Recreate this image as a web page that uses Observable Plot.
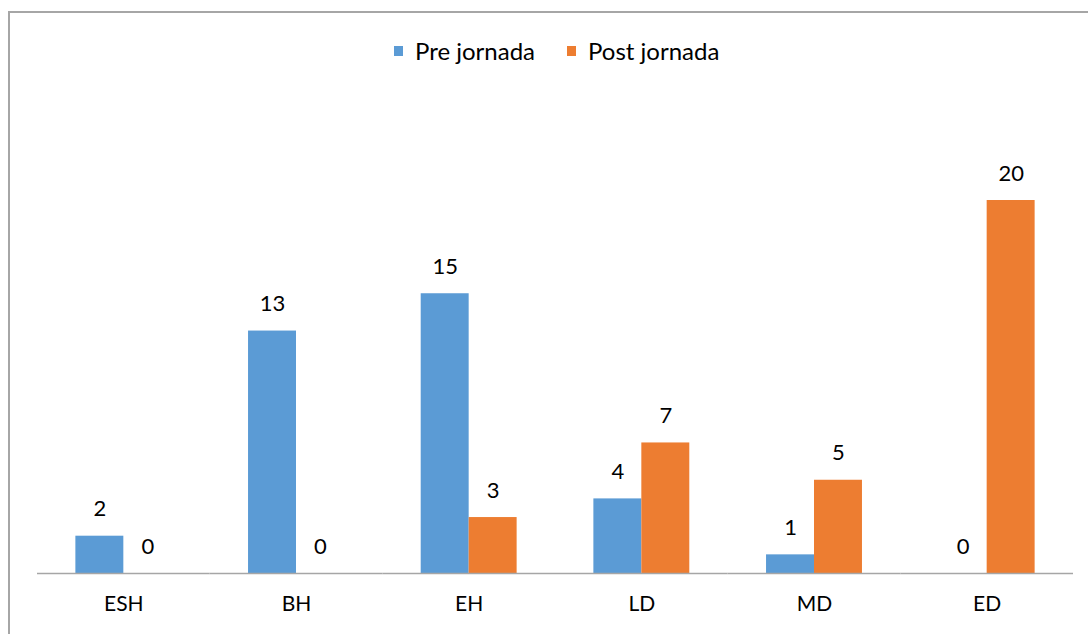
<!DOCTYPE html>
<html>
<head>
<meta charset="utf-8">
<script src="https://cdn.jsdelivr.net/npm/d3@7"></script>
<script src="https://cdn.jsdelivr.net/npm/@observablehq/plot@0.6"></script>
<style>
  html, body { margin: 0; padding: 0; background: #fff; overflow: hidden; width: 1088px; height: 634px; }
  #wrap { position: relative; width: 1088px; height: 634px; font-family: Lato, "Open Sans", sans-serif; }
  #frame { position: absolute; left: 8px; top: 11px; width: 1100px; height: 650px; border-left: 2px solid #a6a6a6; border-top: 2px solid #a6a6a6; box-sizing: border-box; }
  #chart { position: absolute; left: 0; top: 0; }
  #legend { position: absolute; top: 36px; left: 394px; display: flex; gap: 32px; font-size: 24px; color: #000; }
  .item { display: flex; align-items: center; gap: 12px; }
  .sw { width: 9px; height: 10px; display: inline-block; }
</style>
</head>
<body>
<div id="wrap">
  <div id="frame"></div>
  <div id="chart"></div>
  <div id="legend"></div>
</div>
<script>
const categories = ["ESH", "BH", "EH", "LD", "MD", "ED"];
const series = ["Pre jornada", "Post jornada"];
const preValues = [2, 13, 15, 4, 1, 0];
const postValues = [0, 0, 3, 7, 5, 20];
const colors = ["#5B9BD5", "#ED7D31"];

const data = [];
categories.forEach((c, i) => {
  data.push({cat: c, series: series[0], value: preValues[i]});
  data.push({cat: c, series: series[1], value: postValues[i]});
});

const chart = Plot.plot({
  width: 1088,
  height: 634,
  marginLeft: 37,
  marginRight: 15,
  marginTop: 200,
  marginBottom: 61,
  style: {fontFamily: "Lato, 'Open Sans', sans-serif", fontSize: "21px", color: "#000", background: "transparent"},
  fx: {domain: categories, padding: 0, round: false, label: null, axis: "bottom", tickSize: 0, tickPadding: 23},
  x: {domain: series, paddingInner: 0, paddingOuter: 0.8, round: false, axis: null},
  y: {domain: [0, 20], axis: null},
  color: {domain: series, range: colors},
  marks: [
    Plot.barY(data, {fx: "cat", x: "series", y: "value", fill: "series", inset: 0}),
    Plot.ruleY([0], {stroke: "#a6a6a6", strokeWidth: 1.5}),
    Plot.text(data, {fx: "cat", x: "series", y: "value", text: d => String(d.value), dy: -27, fill: "#000", fontSize: 22})
  ]
});
document.getElementById("chart").appendChild(chart);

const legend = document.getElementById("legend");
series.forEach((s, i) => {
  const item = document.createElement("div");
  item.className = "item";
  const sw = document.createElement("span");
  sw.className = "sw";
  sw.style.background = colors[i];
  const t = document.createElement("span");
  t.textContent = s;
  item.appendChild(sw);
  item.appendChild(t);
  legend.appendChild(item);
});
</script>
</body>
</html>
